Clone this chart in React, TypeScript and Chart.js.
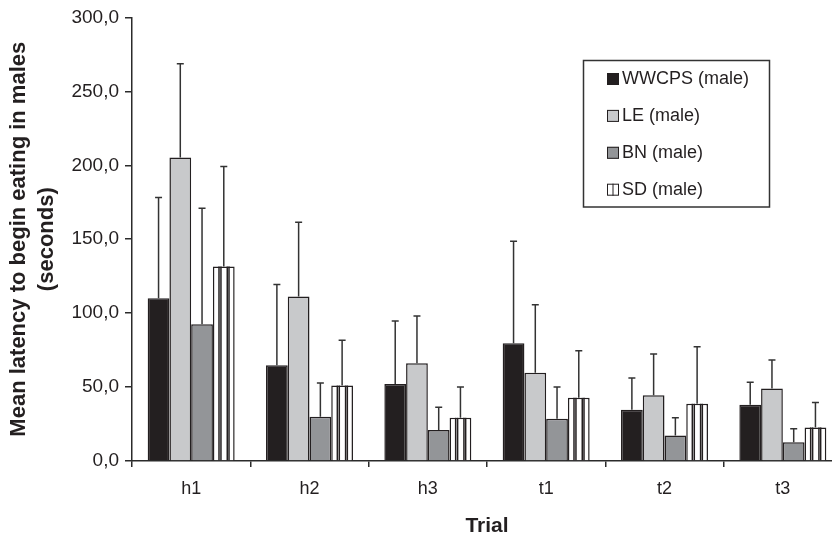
import React, { useEffect, useRef } from "react";
import { Chart, registerables } from "chart.js";

Chart.register(...registerables);

// ---- data ----
const trials = ["h1", "h2", "h3", "t1", "t2", "t3"];
const seriesNames = ["WWCPS (male)", "LE (male)", "BN (male)", "SD (male)"];

const wwcps = [110.1, 64.7, 52.1, 79.6, 34.6, 38.0];
const wwcpsErr = [68.1, 54.7, 42.5, 69.0, 21.6, 15.3];

const le = [205.2, 111.3, 66.1, 59.6, 44.5, 49.0];
const leErr = [63.4, 50.1, 31.9, 46.1, 27.9, 19.3];

const bn = [92.4, 29.9, 20.9, 28.6, 17.3, 12.6];
const bnErr = [78.6, 22.9, 15.5, 21.5, 11.9, 9.2];

const sd = [131.5, 51.0, 29.2, 42.7, 38.7, 22.7];
const sdErr = [67.6, 30.6, 20.9, 31.9, 38.6, 16.9];

const yMin = 0;
const yMax = 300;
const yStep = 50;

const yTitle = ["Mean latency to begin eating in males", "(seconds)"];
const xTitle = "Trial";

// ---- styles ----
const INK = "#231f20";
const AXIS = "#2b2b2b";
const colors = [INK, "#c8c9cb", "#939598", "#ffffff"];
const stripeFractions = [0.28, 0.37, 0.66, 0.74];
const FONT = "'Liberation Sans', Arial, Helvetica, sans-serif";

const errors = [wwcpsErr, leErr, bnErr, sdErr];

const barExtrasPlugin = {
  id: "barExtras",
  afterDatasetsDraw(chart: any) {
    const ctx = chart.ctx;
    const yScale = chart.scales.y;
    ctx.save();
    // stripes for SD bars
    chart.data.datasets.forEach((ds: any, di: number) => {
      if (!ds.striped) return;
      const meta = chart.getDatasetMeta(di);
      meta.data.forEach((bar: any) => {
        const { x, y, base, width } = bar.getProps(["x", "y", "base", "width"], true);
        const left = x - width / 2;
        ctx.strokeStyle = INK;
        ctx.lineWidth = 1.5;
        stripeFractions.forEach((f) => {
          const lx = left + f * width;
          ctx.beginPath();
          ctx.moveTo(lx, y);
          ctx.lineTo(lx, base);
          ctx.stroke();
        });
      });
    });
    // error bars (upper only)
    chart.data.datasets.forEach((ds: any, di: number) => {
      const meta = chart.getDatasetMeta(di);
      const errs = errors[di];
      meta.data.forEach((bar: any, i: number) => {
        const { x, y } = bar.getProps(["x", "y"], true);
        const top = yScale.getPixelForValue(ds.data[i] + errs[i]);
        ctx.strokeStyle = "#333333";
        ctx.lineWidth = 1.5;
        ctx.beginPath();
        ctx.moveTo(x, y);
        ctx.lineTo(x, top);
        ctx.moveTo(x - 3.5, top);
        ctx.lineTo(x + 3.5, top);
        ctx.stroke();
      });
    });
    ctx.restore();
  },
};

const boxLegendPlugin = {
  id: "boxLegend",
  afterDraw(chart: any) {
    const ctx = chart.ctx;
    ctx.save();
    const bx = 583.5, by = 60.5, bw = 186, bh = 146.5;
    ctx.strokeStyle = "#333333";
    ctx.lineWidth = 1.5;
    ctx.strokeRect(bx, by, bw, bh);
    ctx.font = `18px ${FONT}`;
    ctx.textBaseline = "middle";
    ctx.textAlign = "left";
    chart.data.datasets.forEach((ds: any, i: number) => {
      const cy = 79 + i * 36.9;
      const sx = 607, size = 12;
      ctx.fillStyle = ds.backgroundColor;
      ctx.fillRect(sx, cy - size / 2, size, size);
      ctx.strokeStyle = INK;
      ctx.lineWidth = 1;
      ctx.strokeRect(sx + 0.5, cy - size / 2 + 0.5, size - 1, size - 1);
      if (ds.striped) {
        ctx.beginPath();
        ctx.moveTo(sx + size * 0.5, cy - size / 2);
        ctx.lineTo(sx + size * 0.5, cy + size / 2);
        ctx.stroke();
      }
      ctx.fillStyle = INK;
      ctx.fillText(ds.label, 622, cy + 0.5);
    });
    ctx.restore();
  },
};

export default function App() {
  const canvasRef = useRef<HTMLCanvasElement | null>(null);

  useEffect(() => {
    document.body.style.margin = "0";
    const canvas = canvasRef.current;
    if (!canvas) return;
    Chart.defaults.font.family = FONT;
    const seriesValues = [wwcps, le, bn, sd];
    const chart = new Chart(canvas, {
      type: "bar",
      data: {
        labels: trials,
        datasets: seriesNames.map((name, i) => ({
          label: name,
          data: seriesValues[i],
          backgroundColor: colors[i],
          borderColor: INK,
          borderWidth: 1.5,
          striped: i === 3,
          categoryPercentage: 0.735,
          barPercentage: 1.0,
        })) as any,
      },
      options: {
        animation: false,
        responsive: false,
        devicePixelRatio: 1,
        layout: { padding: { top: 16, right: 8, bottom: 0, left: 0 } },
        plugins: {
          legend: { display: false },
          tooltip: { enabled: false },
        },
        scales: {
          x: {
            offset: true,
            grid: {
              display: true,
              offset: true,
              drawOnChartArea: false,
              drawTicks: true,
              tickLength: 6,
              color: AXIS,
              lineWidth: 1.5,
            },
            border: { display: true, color: AXIS, width: 1.5 },
            ticks: { color: INK, font: { size: 18 }, padding: 11 },
            title: {
              display: true,
              text: xTitle,
              color: INK,
              font: { size: 21, weight: "bold", lineHeight: 1 },
              padding: { top: 0, bottom: 0 },
            },
            afterFit(scale: any) {
              scale.height = 76;
            },
          },
          y: {
            min: yMin,
            max: yMax,
            ticks: {
              stepSize: yStep,
              color: INK,
              font: { size: 19 },
              padding: 6,
              callback: (v: any) => Number(v).toFixed(1).replace(".", ","),
            },
            grid: {
              drawOnChartArea: false,
              drawTicks: true,
              tickLength: 7,
              color: AXIS,
              lineWidth: 1.5,
            },
            border: { display: true, color: AXIS, width: 1.5 },
            title: {
              display: true,
              text: yTitle,
              color: INK,
              font: { size: 22, weight: "bold", lineHeight: 1.27 },
              padding: { top: 5, bottom: 0 },
            },
            afterFit(scale: any) {
              scale.width = 132;
            },
          },
        },
      } as any,
      plugins: [barExtrasPlugin, boxLegendPlugin],
    });
    return () => chart.destroy();
  }, []);

  return (
    <div style={{ width: 832, height: 537, overflow: "hidden", position: "relative", background: "#fff" }}>
      <canvas ref={canvasRef} width={850} height={537} style={{ width: 850, height: 537, display: "block" }} />
    </div>
  );
}
